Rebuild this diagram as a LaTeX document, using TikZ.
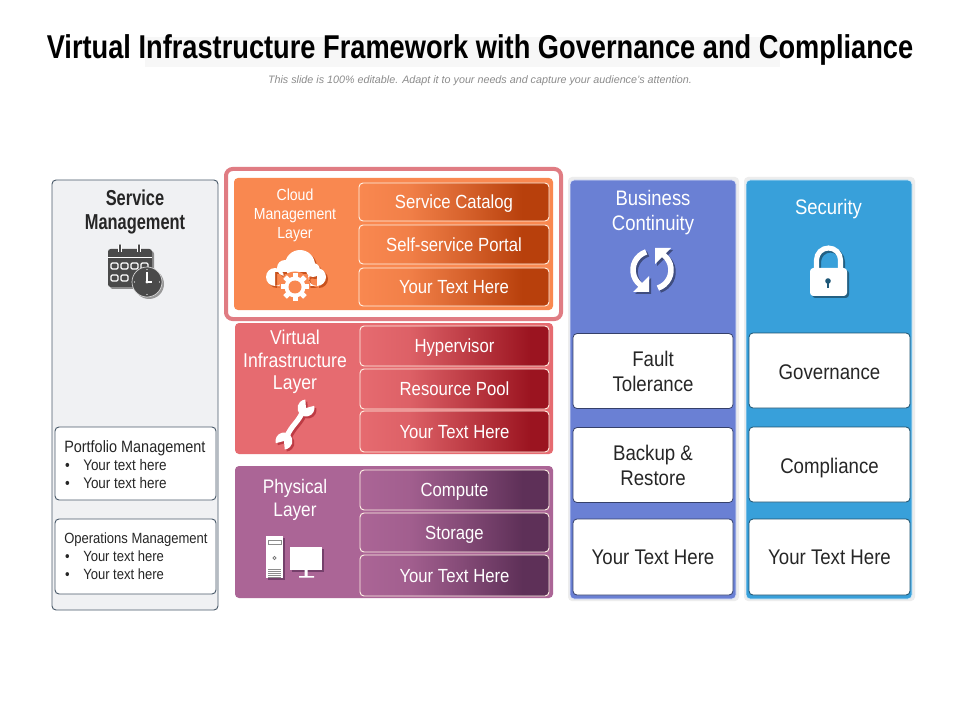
\documentclass[tikz,border=0pt]{standalone}
\usepackage{fontspec}
\setmainfont{Liberation Sans}
\newfontfamily\nar[FakeStretch=0.88]{Liberation Sans}
\newfontfamily\narb[FakeStretch=0.76]{Liberation Sans Bold}
\newfontfamily\narc[FakeStretch=0.825]{Liberation Sans Bold}
\usetikzlibrary{calc}
\definecolor{orgA}{HTML}{F98850}\definecolor{orgB}{HTML}{B8400C}
\definecolor{redA}{HTML}{E66B70}\definecolor{redB}{HTML}{9B1420}
\definecolor{purA}{HTML}{AB6596}\definecolor{purB}{HTML}{5E3058}
\definecolor{bluA}{HTML}{6A80D4}\definecolor{cyaA}{HTML}{38A0DA}
\definecolor{frameR}{HTML}{E07C83}\definecolor{edgeL}{HTML}{4A5A6A}
\definecolor{txtD}{HTML}{262626}\definecolor{icoD}{HTML}{4A4A4A}\definecolor{panL}{HTML}{F0F1F3}
\pgfdeclarehorizontalshading{orgS}{100bp}{color(0bp)=(orgA);color(25bp)=(orgA);color(38bp)=(orgA!88!orgB);color(52bp)=(orgA!50!orgB);color(68bp)=(orgB);color(100bp)=(orgB)}
\pgfdeclarehorizontalshading{redS}{100bp}{color(0bp)=(redA);color(25bp)=(redA);color(38bp)=(redA!88!redB);color(52bp)=(redA!50!redB);color(70bp)=(redB);color(100bp)=(redB)}
\pgfdeclarehorizontalshading{purS}{100bp}{color(0bp)=(purA);color(25bp)=(purA);color(38bp)=(purA!88!purB);color(52bp)=(purA!50!purB);color(68bp)=(purB);color(100bp)=(purB)}
\newcommand\fsz[2]{\fontsize{\fpeval{#1*0.75}pt}{\fpeval{#2*0.75}pt}\selectfont}
\newcommand\bx[7]{%
  \pgfmathsetmacro\myW{(#4-#2)*0.75}\pgfmathsetmacro\myH{(#5-#3)*0.75}%
  \node[minimum width=\myW pt,minimum height=\myH pt,inner sep=0pt,outer sep=0pt,#6] (#1) at ({(#2+#4)/2},{(#3+#5)/2}) {#7};}
\tikzset{
  roundbox/.style={rounded corners=3pt},
  sidepanel/.style={roundbox,draw=edgeL,line width=.7pt,fill=#1},
  layerpanel/.style={roundbox,fill=#1},
  gradbox/.style={roundbox,draw=white!90!orange,line width=.7pt,shading=#1,text=white,align=center,font=\nar\fsz{19}{24},text height=10.2pt,text depth=0pt},
  whitebox/.style={roundbox,draw=#1,line width=.6pt,fill=white,text=txtD,align=center,font=\nar\fsz{21.2}{25}},
  oneline/.style={text height=11.2pt,text depth=0pt},
  onelinelow/.style={text height=13.4pt,text depth=0pt},
  smallbox/.style={roundbox,draw=edgeL,line width=.7pt,fill=white},
  layerlabel/.style={text=white,align=center,inner sep=0pt},
  listlabel/.style={text=txtD,align=left,inner sep=0pt,anchor=west,font=\nar\fsz{15.3}{18}},
  haloP/.style={roundbox,fill=black!7},
}
\newcommand\listbody[1]{#1\\\makebox[14.25pt][l]{\hspace{.7pt}•}Your text here\\\makebox[14.25pt][l]{\hspace{.7pt}•}Your text here}
\newcommand\cloudshape[1]{\fill[#1] (300,265) circle (15) (275,277) circle (9) (317,277) circle (9) (285,268) circle (8) (313,270) circle (7) (275,272) rectangle (317,286);}
\newcommand\wrenchshape[1]{%
  \draw[#1,line width=3.9pt,line cap=round] (302,413) .. controls (298,422) and (292,425) .. (287,436);
  \fill[#1] (306,408) ++(-15:8.5) arc[start angle=-15,end angle=265,radius=8.5] -- (306,408) -- cycle;
  \fill[#1] (284,441) ++(165:8.5) arc[start angle=165,end angle=445,radius=8.5] -- (284,441) -- cycle;}
\newcommand\refreshshape[1]{%
  \draw[#1,line width=4.2pt] (652,270) ++(252:19) arc[start angle=252,end angle=118,radius=19];
  \fill[#1] (633,292) -- (649,292) -- (649,276) -- cycle;
  \draw[#1,line width=4.2pt] (652,270) ++(72:19) arc[start angle=72,end angle=-62,radius=19];
  \fill[#1] (655,248) -- (671,248) -- (655,264) -- cycle;}
\newcommand\lockshape[1]{%
  \fill[#1,rounded corners=2.5pt] (810,268) rectangle (847,296);
  \draw[#1,line width=3.8pt] (816.5,270) -- (816.5,260) arc[start angle=180,end angle=360,radius=12] -- (840.5,270);}
\begin{document}
\begin{tikzpicture}[x=0.75pt,y=-0.75pt]
\useasboundingbox (0,0) rectangle (960,720);
\fill[white] (0,0) rectangle (960,720);
% title
\fill[black!3] (145,37) rectangle (780,67);
\node[inner sep=0pt,text=black,font=\narc\fsz{33}{36}] (title) at (480,50) {Virtual Infrastructure Framework with Governance and Compliance};
\node[inner sep=0pt,text=black!45,font=\itshape\fsz{10.75}{14}] (subtitle) at (480,80.5) {This slide is 100\% editable. Adapt it to your needs and capture your audience’s attention.};
% service management
\bx{svc}{52}{180}{218}{610}{sidepanel=panL}{}
\node[inner sep=0pt,align=center,text=txtD,font=\narb\fsz{21.6}{24}] (svct) at (135,211.5) {Service\\Management};
\bx{pfm}{55}{427}{216}{500}{smallbox}{}
\node[listlabel] (pfmt) at (64,465) {\listbody{{\fsz{16.4}{18}Portfolio Management}}};
\bx{ops}{55}{519}{216}{594}{smallbox}{}
\node[listlabel,font=\nar\fsz{14.8}{17.8}] (opst) at (64,556.5) {\listbody{Operations Management}};
% calendar icon
\fill[black!45,rounded corners=2pt] (110,251) rectangle (154,289);
\fill[icoD,rounded corners=2pt] (108,249) rectangle (152,287);
\draw[white,line width=.6pt] (108,257) -- (152,257);
\foreach \xx in {120,139}{\draw[white,line width=2.4pt] (\xx,245) -- (\xx,252);\draw[icoD,line width=1.1pt,line cap=round] (\xx,245) -- (\xx,252);}
\foreach \xx in {111,121,131,141}{\draw[white,line width=.9pt,rounded corners=1pt] (\xx,263) rectangle ++(7,6);}
\foreach \xx in {111,121}{\draw[white,line width=.9pt,rounded corners=1pt] (\xx,275) rectangle ++(7,6);}
\fill[black!40] (149,284) circle (15);
\filldraw[fill=icoD,draw=white!85!black,line width=.5pt] (147,282) circle (15);
\draw[white,line width=.8pt] (147,272) -- (147,282) -- (152,282);
\fill[white] (147,282) circle (1.6);
\foreach \aa in {0,90,180,270}{\fill[white] (147,282) ++(\aa:12.5) circle (.7);}
% cloud layer
\draw[frameR,line width=3pt,fill=white,rounded corners=5pt] (226,169) rectangle (561,319);
\bx{cloudp}{234}{178}{553}{310}{layerpanel=orgA}{}
\node[layerlabel,font=\nar\fsz{16}{19}] (cloudt) at (295,215.5) {Cloud\\Management\\Layer};
\bx{c1}{359}{183}{549}{221}{gradbox=orgS}{Service Catalog}
\bx{c2}{359}{225}{549}{264}{gradbox=orgS}{Self-service Portal}
\bx{c3}{359}{268}{549}{306}{gradbox=orgS}{Your Text Here}
\begin{scope}[shift={(2,2)}]\cloudshape{orgB!75!orgA}\end{scope}
\cloudshape{white}
\fill[orgA] (295,287) circle (15.5);
\fill[white] (295,287) circle (10.5);
\foreach \aa in {0,45,...,315}{\fill[white,rotate around={\aa:(295,287)}] (292.5,273) rectangle (297.5,278);}
\fill[orgA] (295,287) circle (6.5);
% virtual layer
\bx{virtp}{235}{323}{553}{454}{layerpanel=redA}{}
\node[layerlabel,font=\nar\fsz{20}{22.5}] (virtt) at (295,362) {Virtual\\Infrastructure\\Layer};
\bx{v1}{360}{326}{549}{366}{gradbox=redS}{Hypervisor}
\bx{v2}{360}{369}{549}{409}{gradbox=redS}{Resource Pool}
\bx{v3}{360}{411}{549}{452}{gradbox=redS}{Your Text Here}
\begin{scope}[shift={(2,2)}]\wrenchshape{redB!55!redA}\end{scope}
\wrenchshape{white}
% physical layer
\bx{physp}{235}{466}{553}{598}{layerpanel=purA}{}
\node[layerlabel,font=\nar\fsz{19.6}{23}] (physt) at (295,500) {Physical\\Layer};
\bx{p1}{360}{470}{549}{510}{gradbox=purS}{Compute}
\bx{p2}{360}{513}{549}{552}{gradbox=purS}{Storage}
\bx{p3}{360}{555}{549}{596}{gradbox=purS}{Your Text Here}
\fill[purB!70!purA] (268,538) rectangle (285,580);
\fill[white] (266,536) rectangle (283,578);
\draw[black!45,line width=.5pt] (268,540) rectangle (281,544);
\draw[black!55,line width=.5pt] (274.5,558) circle (1.6);
\foreach \yy in {569,571,573,575,577}{\draw[black!45,line width=.4pt] (268,\yy) -- (281,\yy);}
\fill[purB!70!purA] (292,549) rectangle (324,572);
\fill[white] (290,547) rectangle (322,570);
\fill[white] (304.5,570) rectangle (307.5,576) (299,576) rectangle (314,577.5);
% business continuity
\fill[haloP] (568,177) rectangle (739,601);
\bx{bizp}{570}{180}{736}{599}{roundbox,fill=bluA,draw=white!80!bluA,line width=.6pt}{}
\node[layerlabel,font=\nar\fsz{21}{25}] (bizt) at (653,212.5) {Business\\Continuity};
\begin{scope}[shift={(2,2)}]\refreshshape{bluA!60!black}\end{scope}
\refreshshape{white}
\bx{b1}{573}{333}{733}{408}{whitebox=bluA!50!black,yshift=-.4pt}{Fault\\Tolerance}
\bx{b2}{573}{427}{733}{502}{whitebox=bluA!50!black,yshift=-.4pt}{Backup \&\\Restore}
\bx{b3}{573}{519}{733}{595}{whitebox=bluA!50!black,oneline}{Your Text Here}
% security
\fill[haloP] (744,177) rectangle (915,601);
\bx{secp}{746}{180}{912}{599}{roundbox,fill=cyaA,draw=white!80!cyaA,line width=.6pt}{}
\node[layerlabel,font=\nar\fsz{21}{25}] (sect) at (828.5,209) {Security};
\begin{scope}[shift={(2,2)}]\lockshape{cyaA!60!black}\end{scope}
\lockshape{white}
\fill[cyaA!55!black] (828,281) circle (2.8);
\fill[cyaA!55!black] (827,281) rectangle (829,288);
\bx{s1}{749}{333}{910}{408}{whitebox=cyaA!50!black,onelinelow}{Governance}
\bx{s2}{749}{427}{910}{502}{whitebox=cyaA!50!black,onelinelow}{Compliance}
\bx{s3}{749}{519}{910}{595}{whitebox=cyaA!50!black,oneline}{Your Text Here}
\end{tikzpicture}
\end{document}
